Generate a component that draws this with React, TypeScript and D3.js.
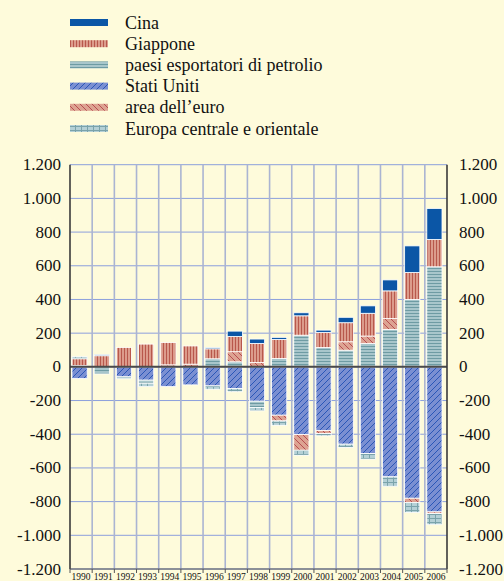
import * as d3 from "d3";

const years = ["1990", "1991", "1992", "1993", "1994", "1995", "1996", "1997", "1998", "1999", "2000", "2001", "2002", "2003", "2004", "2005", "2006"];

// billions of dollars
const cina = [0, 6, 0, 0, 0, 0, 7, 32, 26, 12, 18, 14, 32, 44, 65, 158, 184];
const giappone = [40, 66, 115, 135, 132, 108, 59, 90, 113, 113, 115, 89, 113, 135, 164, 160, 162];
const petrolio = [8, -42, -12, -18, 0, 0, 48, 30, -37, 50, 188, 115, 99, 139, 222, 400, 594];
const statiUniti = [-69, 0, -59, -79, -117, -107, -113, -128, -204, -287, -402, -378, -459, -515, -653, -780, -861];
const euro = [0, 0, 0, 0, 12, 16, 0, 60, 26, -34, -93, -18, 50, 44, 65, -26, -10];
const europaCentrale = [12, 0, 0, -20, 0, 0, -20, -20, -20, -26, -30, -14, -20, -33, -56, -59, -66];

const yTicks = [-1200, -1000, -800, -600, -400, -200, 0, 200, 400, 600, 800, 1000, 1200];

const series = [
  { key: "cina", label: "Cina", values: cina, fill: "#0b56a6" },
  { key: "giappone", label: "Giappone", values: giappone, fill: "url(#pGiappone)" },
  { key: "petrolio", label: "paesi esportatori di petrolio", values: petrolio, fill: "url(#pPetrolio)" },
  { key: "usa", label: "Stati Uniti", values: statiUniti, fill: "url(#pUsa)" },
  { key: "euro", label: "area dell\u2019euro", values: euro, fill: "url(#pEuro)" },
  { key: "cee", label: "Europa centrale e orientale", values: europaCentrale, fill: "url(#pCee)" },
];

// stacking order from zero outwards
const stackKeys = ["usa", "petrolio", "euro", "giappone", "cina", "cee"];

const W = 504;
const H = 581;
const left = 70;
const right = 447;
const top = 164.7;
const bottom = 569;

const locale = d3.formatLocale({ decimal: ",", thousands: ".", grouping: [3], currency: ["", ""], minus: "-" });
const fmt = locale.format(",d");

const font = "Liberation Serif, Tinos, Times, DejaVu Serif, serif";

export default function App() {
  const x = d3.scaleBand<string>().domain(years).range([left, right]).paddingInner(0).paddingOuter(0);
  const y = d3.scaleLinear().domain([-1200, 1200]).range([bottom, top]);

  const rows = years.map((yr, i) => {
    const r: Record<string, any> = { year: yr };
    series.forEach((s) => (r[s.key] = s.values[i]));
    return r;
  });
  const stacked = d3.stack<any>().keys(stackKeys).offset(d3.stackOffsetDiverging)(rows);
  const fillOf = (k: string) => series.find((s) => s.key === k)!.fill;

  const bw = x.bandwidth();
  const edges = years.map((yr) => x(yr)!).concat([right]);

  return (
    <div style={{ position: "absolute", left: 0, top: 0, width: W, height: H, background: "#fefbdb", overflow: "hidden" }}>
      <svg width={W} height={H} style={{ display: "block", fontFamily: font }}>
        <defs>
          <pattern id="pGiappone" patternUnits="userSpaceOnUse" width="3" height="4">
            <rect width="3" height="4" fill="#dc9c8c" />
            <rect x="1" width="1" height="4" fill="#b8584c" />
          </pattern>
          <pattern id="pPetrolio" patternUnits="userSpaceOnUse" width="4" height="3">
            <rect width="4" height="3" fill="#a8c6cb" />
            <rect y="1" width="4" height="1" fill="#6e9ba3" />
          </pattern>
          <pattern id="pUsa" patternUnits="userSpaceOnUse" width="6" height="6">
            <rect width="6" height="6" fill="#7a8fd2" />
            <path d="M0,6 L6,0 M-1,1 L1,-1 M5,7 L7,5" stroke="#2350b4" strokeWidth="0.9" />
          </pattern>
          <pattern id="pEuro" patternUnits="userSpaceOnUse" width="6" height="6">
            <rect width="6" height="6" fill="#dda392" />
            <path d="M0,0 L6,6 M-1,5 L1,7 M5,-1 L7,1" stroke="#b2434a" strokeWidth="0.9" />
          </pattern>
          <pattern id="pCee" patternUnits="userSpaceOnUse" width="6" height="4">
            <rect width="6" height="4" fill="#b4d0d6" />
            <rect y="2" width="6" height="1" fill="#7aa3ab" />
            <rect x="3" width="1" height="4" fill="#7aa3ab" />
          </pattern>
        </defs>

        {/* legend */}
        {series.map((s, i) => {
          const cy = 22.5 + i * 21.2;
          return (
            <g key={s.key}>
              <rect x={70} y={cy - 3.5} width={38} height={7} fill={s.fill} />
              <text x={125} y={cy + 6} fontSize={18} fill="#111">
                {s.label}
              </text>
            </g>
          );
        })}

        {/* grid */}
        {yTicks.map((t) => (
          <line key={"h" + t} x1={left} x2={right} y1={y(t)} y2={y(t)} stroke="#8c9fdc" strokeWidth={1} />
        ))}
        {edges.slice(1, -1).map((ex, i) => (
          <line key={"v" + i} x1={ex} x2={ex} y1={top} y2={bottom} stroke="#aab4d2" strokeWidth={1.6} />
        ))}

        {/* bars */}
        {stacked.map((layer) =>
          layer.map((d, i) => {
            if (d[0] === d[1]) return null;
            const y0 = y(Math.max(d[0], d[1]));
            const y1 = y(Math.min(d[0], d[1]));
            return (
              <rect
                key={layer.key + i}
                x={x(years[i])! + 2}
                y={y0}
                width={bw - 7}
                height={y1 - y0}
                fill={fillOf(layer.key)}
                stroke="#ffffff"
                strokeWidth={0.8}
              />
            );
          })
        )}

        {/* zero line and axes */}
        <line x1={left} x2={right} y1={y(0)} y2={y(0)} stroke="#4a4a4a" strokeWidth={2} />
        <line x1={left} x2={left} y1={top} y2={bottom} stroke="#3a3a3a" strokeWidth={1.6} />
        <line x1={right} x2={right} y1={top} y2={bottom} stroke="#3a3a3a" strokeWidth={1.6} />
        <line x1={left} x2={right} y1={bottom} y2={bottom} stroke="#555" strokeWidth={1.2} />
        {edges.map((ex, i) => (
          <line key={"t" + i} x1={ex} x2={ex} y1={bottom} y2={bottom + 4} stroke="#555" strokeWidth={1} />
        ))}

        {yTicks.map((t) => (
          <g key={"l" + t} fontSize={17} fill="#111">
            <text x={61} y={y(t) + 5.5} textAnchor="end">
              {fmt(t)}
            </text>
            <text x={459} y={y(t) + 5.5} textAnchor="start">
              {fmt(t)}
            </text>
          </g>
        ))}

        {years.map((yr) => (
          <text key={"x" + yr} x={x(yr)! + bw / 2} y={580} textAnchor="middle" fontSize={9.5} fill="#111">
            {yr}
          </text>
        ))}
      </svg>
    </div>
  );
}
